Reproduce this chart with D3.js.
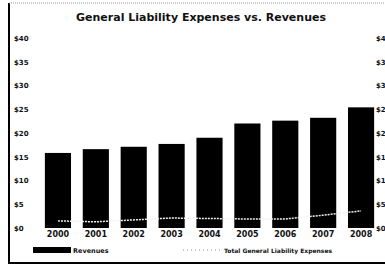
<!DOCTYPE html>
<html>
<head>
<script src="https://d3js.org/d3.v7.min.js"></script>
<style>
  body { margin: 0; background: #fff; }
  svg { display: block; overflow: hidden; }
  text { font-family: 'DejaVu Sans', sans-serif; font-weight: bold; fill: #111; }
  .title { font-family: 'DejaVu Sans', sans-serif; font-size: 11px; font-weight: 700; }
</style>
</head>
<body>
<svg id="chart"></svg>
<script>
  'use strict';

  var years = ["2000","2001","2002","2003","2004","2005","2006","2007","2008"];
  var revenues = [15.8, 16.6, 17.1, 17.7, 19.0, 22.0, 22.6, 23.2, 25.4];
  var expenses = [1.5, 1.3, 1.7, 2.1, 2.0, 1.9, 1.9, 2.7, 3.6];
  var yTicks = [0, 5, 10, 15, 20, 25, 30, 35, 40];

  var width = 385, height = 267;
  var svg = d3.select("#chart").attr("width", width).attr("height", height);

  // frame (scanned box, right side cut off)
  svg.append("line").attr("x1", 9).attr("x2", 9).attr("y1", 3).attr("y2", 264)
     .attr("stroke", "#000").attr("stroke-width", 2);
  svg.append("line").attr("x1", 9).attr("x2", 385).attr("y1", 263).attr("y2", 263)
     .attr("stroke", "#000").attr("stroke-width", 2);
  svg.append("line").attr("x1", 9).attr("x2", 385).attr("y1", 3).attr("y2", 3)
     .attr("stroke", "#999").attr("stroke-width", 1).attr("stroke-dasharray", "1,1");

  svg.append("text").attr("class", "title")
     .attr("x", 201).attr("y", 21).attr("text-anchor", "middle")
     .text("General Liability Expenses vs. Revenues");

  var x = d3.scaleBand().domain(years).range([39, 380]).paddingInner(0.31).paddingOuter(0.155);
  var y = d3.scaleLinear().domain([0, 40]).range([228, 38]);

  var fmt = function(d) { return "$" + d; };

  var left = svg.append("g").attr("transform", "translate(14,0)")
     .call(d3.axisRight(y).tickValues(yTicks).tickFormat(fmt).tickSize(0).tickPadding(0));
  var right = svg.append("g").attr("transform", "translate(376,0)")
     .call(d3.axisRight(y).tickValues(yTicks).tickFormat(fmt).tickSize(0).tickPadding(0));
  [left, right].forEach(function(a) {
    a.select(".domain").remove();
    a.selectAll("text").attr("font-size", 7).attr("font-family", "DejaVu Sans").attr("font-weight", "bold").attr("fill", "#222");
  });

  var bottom = svg.append("g").attr("transform", "translate(0,228)")
     .call(d3.axisBottom(x).tickSize(0).tickPadding(3));
  bottom.select(".domain").remove();
  bottom.selectAll("text").attr("font-size", 8).attr("font-family", "DejaVu Sans").attr("font-weight", "bold").attr("fill", "#222");

  svg.append("g").selectAll("rect")
     .data(revenues)
     .enter().append("rect")
     .attr("x", function(d, i) { return x(years[i]); })
     .attr("y", function(d) { return y(d); })
     .attr("width", x.bandwidth())
     .attr("height", function(d) { return y(0) - y(d); })
     .attr("fill", "#000");

  var line = d3.line()
     .x(function(d, i) { return x(years[i]) + x.bandwidth() / 2; })
     .y(function(d) { return y(d); });

  svg.append("path").datum(expenses)
     .attr("d", line)
     .attr("fill", "none")
     .attr("stroke", "#f2f2f2")
     .attr("stroke-width", 1.5)
     .attr("stroke-dasharray", "2,1");

  // legend
  var lg = svg.append("g").attr("transform", "translate(0,250)");
  lg.append("rect").attr("x", 33).attr("y", -3).attr("width", 38).attr("height", 6).attr("fill", "#000");
  lg.append("text").attr("x", 73).attr("y", 2.5).attr("font-size", 6.5).text("Revenues");
  lg.append("line").attr("x1", 183).attr("x2", 222).attr("y1", 0).attr("y2", 0)
     .attr("stroke", "#bbb").attr("stroke-width", 1.5).attr("stroke-dasharray", "1,3");
  lg.append("text").attr("x", 224).attr("y", 2.5).attr("font-size", 6).text("Total General Liability Expenses");
</script>
</body>
</html>
